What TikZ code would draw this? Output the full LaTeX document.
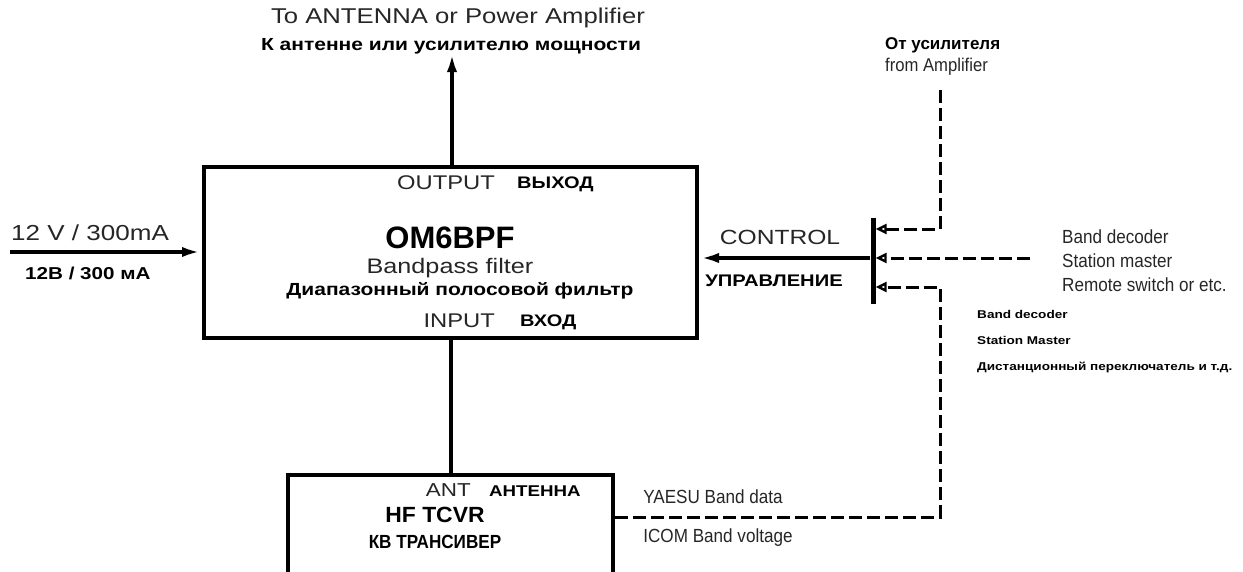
\documentclass[tikz,border=0pt]{standalone}
\usepackage{fontspec}
\setmainfont{Liberation Sans}
\newfontfamily\widefont{Liberation Sans}[FakeStretch=1.2]
\newfontfamily\narrowfont{Liberation Sans}[FakeStretch=0.9]
\newfontfamily\midfont{Liberation Sans}[FakeStretch=1.04]
\usetikzlibrary{arrows.meta}
\newcommand{\fs}[1]{\fontsize{#1}{#1}\selectfont}
\tikzset{
  lbl/.style={inner sep=0pt, text=black!85},
  blbl/.style={inner sep=0pt},
  thickbox/.style={draw, line width=4pt, inner sep=0pt},
  mainarrow/.style={line width=4.5pt, -{Latex[length=20pt,width=10pt]}},
  dashline/.style={line width=3pt, dash pattern=on 13pt off 5pt},
  dasharrow/.style={dashline, -{Triangle[open,length=11pt,width=10pt,line width=2.4pt]}},
}
\begin{document}
\begin{tikzpicture}[x=1pt,y=-1pt]
\useasboundingbox (0,0) rectangle (1243,571);
\clip (0,0) rectangle (1243,571);
% boxes
\node[thickbox, minimum width=493pt, minimum height=171pt] (bpf) at (450.5,252.5) {};
\node[thickbox, minimum width=325pt, minimum height=120pt] (tcvr) at (450.5,535) {};
\node[fill=black, inner sep=0pt, minimum width=5pt, minimum height=86pt] (bar) at (873,261) {};
% texts top
\node[lbl, font=\widefont\fs{21.4}] (toant) at (458,18) {To ANTENNA or Power Amplifier};
\node[blbl, font=\widefont\bfseries\fs{17.5}] (toantru) at (451,46) {К антенне или усилителю мощности};
\coordinate (outtip) at (452,52);
\draw[mainarrow] (bpf.north -| outtip) -- (outtip);
% power input
\node[lbl, font=\widefont\fs{21.7}, anchor=west] (pw) at (11,233) {12 V / 300mA};
\node[blbl, font=\widefont\bfseries\fs{17.2}, anchor=west] (pwru) at (25,273) {12В / 300 мА};
\coordinate (pwstart) at (10,252);
\draw[mainarrow] (pwstart) -- (pwstart -| bpf.west);
% box texts
\node[lbl, font=\widefont\fs{19.8}, anchor=east] (outl) at (495,183) {OUTPUT};
\node[blbl, font=\widefont\bfseries\fs{16.7}, anchor=west] (outru) at (517,184) {ВЫХОД};
\node[blbl, font=\bfseries\fs{31}] (name) at (450,238) {OM6BPF};
\node[lbl, font=\widefont\fs{21}] (bpfl) at (450,268) {Bandpass filter};
\node[blbl, font=\widefont\bfseries\fs{17.5}] (bpfru) at (460,291) {Диапазонный полосовой фильтр};
\node[lbl, font=\widefont\fs{19.8}, anchor=east] (inl) at (495,321) {INPUT};
\node[blbl, font=\widefont\bfseries\fs{16.7}, anchor=west] (inru) at (520,322) {ВХОД};
% link to tcvr
\draw[line width=4pt] (bpf.south) -- (tcvr.north);
% tcvr texts
\node[lbl, font=\widefont\fs{18.7}, anchor=east] (antl) at (471,490) {ANT};
\node[blbl, font=\widefont\bfseries\fs{15.6}, anchor=west] (antru) at (489,491) {АНТЕННА};
\node[blbl, font=\midfont\bfseries\fs{22}] (hf) at (435,515) {HF TCVR};
\node[blbl, font=\narrowfont\bfseries\fs{19}] (hfru) at (435,542) {КВ ТРАНСИВЕР};
% control
\node[lbl, font=\widefont\fs{20.5}] (ctl) at (780,237) {CONTROL};
\node[blbl, font=\widefont\bfseries\fs{16.8}] (ctlru) at (774,281) {УПРАВЛЕНИЕ};
\draw[mainarrow] (bar.west |- 0,258) -- (bpf.east |- 0,258);
% amplifier input
\node[blbl, font=\bfseries\fs{17}, anchor=west] (amp) at (885,45) {От усилителя};
\node[lbl, font=\narrowfont\fs{18.5}, anchor=west] (ampen) at (885,67) {from Amplifier};
\coordinate (ampstart) at (940,90);
\coordinate (ampbend) at (940,229);
\draw[dasharrow] (ampstart) -- (ampbend) -- (bar.east |- ampbend);
% middle
\coordinate (midstart) at (1030,258);
\draw[dasharrow] (midstart) -- (bar.east |- midstart);
\node[lbl, font=\narrowfont\fs{19}, anchor=west] (bd1) at (1062,237) {Band decoder};
\node[lbl, font=\narrowfont\fs{19}, anchor=west] (sm1) at (1062,261) {Station master};
\node[lbl, font=\narrowfont\fs{19}, anchor=west] (rs1) at (1062,285) {Remote switch or etc.};
\node[blbl, font=\widefont\bfseries\fs{11.3}, anchor=west] (bd2) at (977,314) {Band decoder};
\node[blbl, font=\widefont\bfseries\fs{11.3}, anchor=west] (sm2) at (977,340) {Station Master};
\node[blbl, font=\widefont\bfseries\fs{11.3}, anchor=west] (rs2) at (977,367) {Дистанционный переключатель и т.д.};
% bottom from tcvr
\coordinate (tcvrout) at (613,517);
\coordinate (b1) at (940,517);
\coordinate (b2) at (940,287);
\draw[dasharrow] (tcvr.east |- tcvrout) -- (b1) -- (b2) -- (bar.east |- b2);
\node[lbl, font=\narrowfont\fs{19}] (yaesu) at (713,497) {YAESU Band data};
\node[lbl, font=\narrowfont\fs{19}] (icom) at (718,538) {ICOM Band voltage};
\end{tikzpicture}
\end{document}
